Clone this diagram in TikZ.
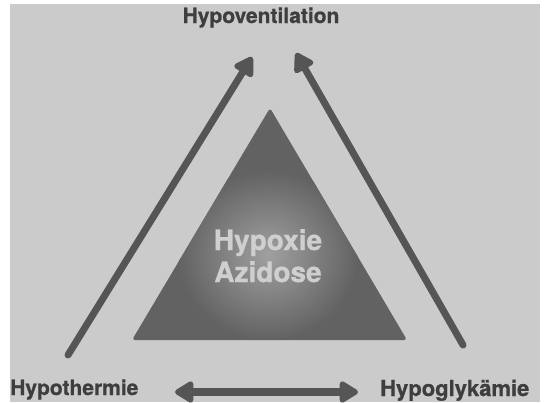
\documentclass[tikz,border=0pt]{standalone}
\usepackage{fontspec}
\setmainfont{TeX Gyre Heros}[BoldFeatures={FakeBold=0.8}]
\usetikzlibrary{arrows.meta}
\definecolor{bggray}{HTML}{CBCBCB}
\definecolor{arrowgray}{HTML}{555555}
\definecolor{trigray}{HTML}{626262}
\definecolor{trilight}{HTML}{A0A0A0}
\definecolor{labelgray}{HTML}{3E3E3E}
\definecolor{innertext}{HTML}{CFCFCF}
\tikzset{
  label/.style={inner sep=0pt, font=\bfseries\fontsize{21}{25}\selectfont, text=labelgray},
  inner/.style={inner sep=0pt, font=\bfseries\fontsize{28}{32}\selectfont, text=innertext},
  bigarrow/.style={draw=arrowgray, line width=7pt, line cap=round,
    -{Triangle[width=24pt,length=21pt,round]}},
  dblarrow/.style={draw=arrowgray, line width=8pt,
    {Triangle[width=24pt,length=21pt,round]}-{Triangle[width=24pt,length=21pt,round]}},
}
\begin{document}
\begin{tikzpicture}[x=1pt,y=-1pt]
\useasboundingbox (0,0) rectangle (545,402);
\fill[white] (0,0) rectangle (545,402);
\fill[bggray] (10,4) rectangle (540,402);
% central triangle
\coordinate (tA) at (132,340);
\coordinate (tB) at (407,340);
\coordinate (tC) at (270,108);
\begin{scope}
  \clip[rounded corners=3pt] (tA) -- (tB) -- (tC) -- cycle;
  \fill[trigray] (120,100) rectangle (420,345);
  \shade[inner color=trilight, outer color=trigray] (268,255) ellipse (90 and 85);
\end{scope}
\node[inner, anchor=base] (hyp) at (268,250) {Hypoxie};
\node[inner, anchor=base] (azi) at (268,282) {Azidose};
% labels
\node[label, anchor=base] (top) at (261,23) {Hypoventilation};
\node[label, anchor=base west] (lt) at (10,395) {Hypothermie};
\node[label, anchor=base west, font=\bfseries\fontsize{22}{26}\selectfont] (rt) at (380,396) {Hypoglykämie};
% arrows
\coordinate (l0) at (68,355);
\coordinate (l1) at (252,57);
\coordinate (r0) at (463,345);
\coordinate (r1) at (296,53);
\draw[bigarrow] (l0) -- (l1);
\draw[bigarrow] (r0) -- (r1);
\coordinate (d0) at (175,392);
\coordinate (d1) at (358,392);
\draw[dblarrow] (d0) -- (d1);
\end{tikzpicture}
\end{document}
